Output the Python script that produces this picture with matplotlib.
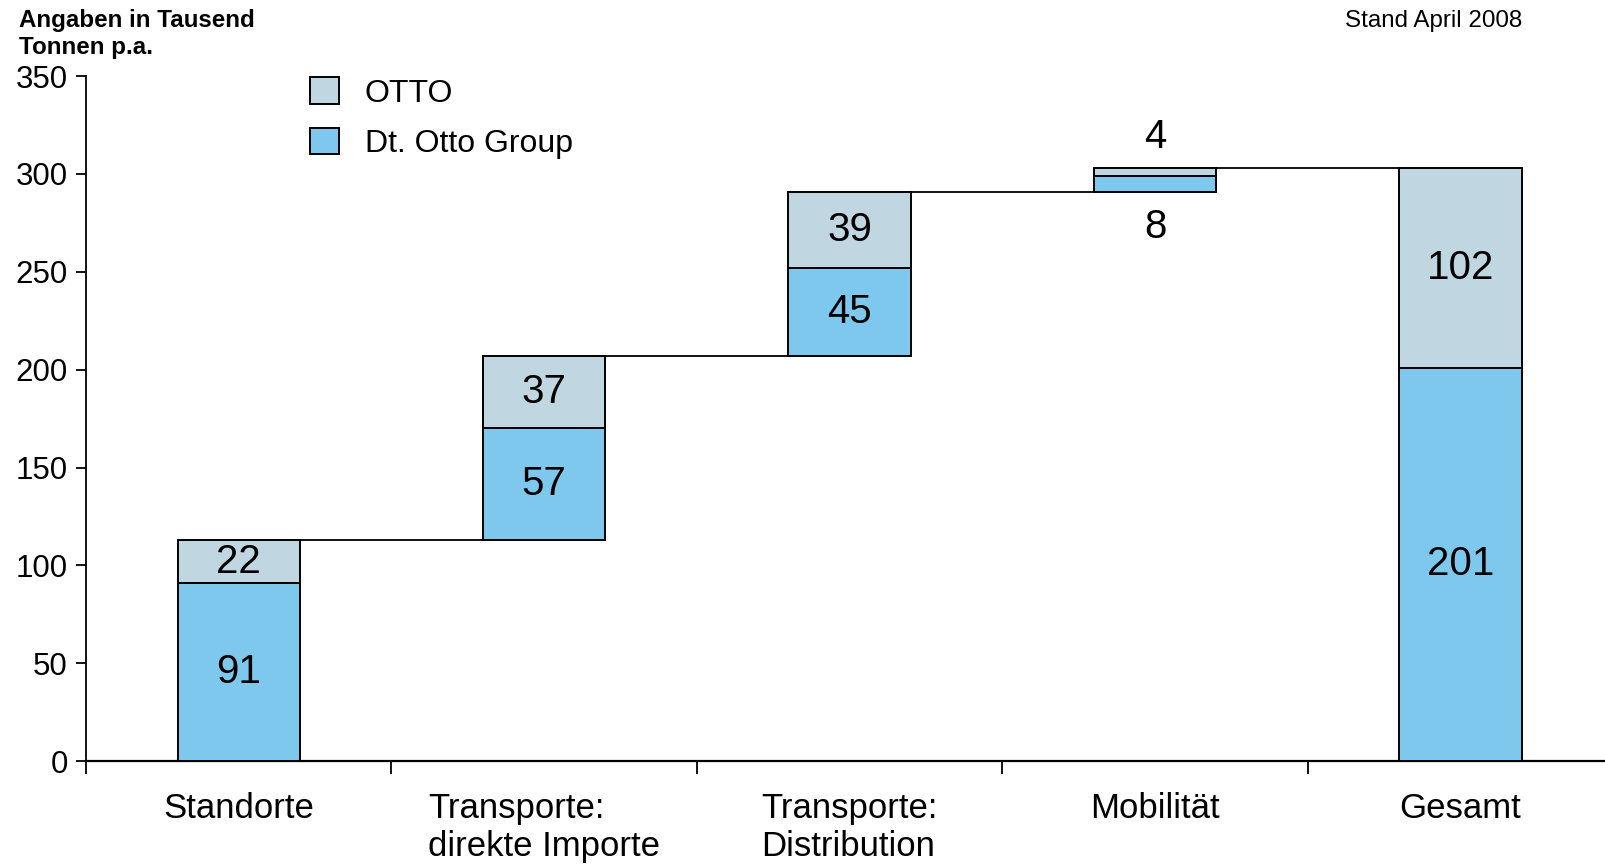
import numpy as np
import matplotlib.pyplot as plt
from matplotlib.patches import Patch

categories = ["Standorte", "Transporte:\ndirekte Importe", "Transporte:\nDistribution", "Mobilität", "Gesamt"]
dt_otto_group = [91, 57, 45, 8, 201]
otto = [22, 37, 39, 4, 102]

col_otto = "#C0D6E1"
col_group = "#7EC8EE"

plt.rcParams['font.family'] = ['Liberation Sans', 'DejaVu Sans']

fig = plt.figure(figsize=(16.06, 8.64), dpi=100)
ax = fig.add_axes([0.0535, 0.119, 0.951, 0.793])

x = np.arange(len(categories)) + 0.5
w = 0.40

# waterfall bases: running sum, last bar starts at 0
tops = np.cumsum(np.array(dt_otto_group) + np.array(otto))
base = np.concatenate([[0], tops[:-2], [0]])
mid = base + np.array(dt_otto_group)
top = mid + np.array(otto)

ax.bar(x, dt_otto_group, w, bottom=base, color=col_group, edgecolor="black", linewidth=1.4, zorder=3)
ax.bar(x, otto, w, bottom=mid, color=col_otto, edgecolor="black", linewidth=1.4, zorder=3)

# connectors
for i in range(len(x) - 1):
    ax.plot([x[i] + w / 2, x[i + 1] - w / 2], [top[i], top[i]], color="black", lw=1.3, zorder=2)

# value labels
fs_val = 29
for i in range(len(x)):
    if dt_otto_group[i] < 15:
        ax.text(x[i], base[i] - 18, str(dt_otto_group[i]), ha="center", va="center", fontsize=fs_val)
        ax.text(x[i], top[i] + 16, str(otto[i]), ha="center", va="center", fontsize=fs_val)
    else:
        ax.text(x[i], base[i] + dt_otto_group[i] / 2, str(dt_otto_group[i]), ha="center", va="center", fontsize=fs_val)
        ax.text(x[i], mid[i] + otto[i] / 2, str(otto[i]), ha="center", va="center", fontsize=fs_val)

ax.set_xlim(0, 5)
ax.set_ylim(0, 350)
ax.set_yticks(np.arange(0, 351, 50))
ax.tick_params(axis="y", labelsize=22.5, length=7, width=1.3, direction="out", pad=6)
ax.set_xticks(np.arange(0, 6))
ax.set_xticklabels([])
ax.set_xticks(x, minor=True)
ax.set_xticklabels(categories, minor=True, fontsize=25, linespacing=1.2, va="top")
for lbl in ax.get_xticklabels(minor=True):
    lbl.set_multialignment("left")
ax.tick_params(axis="x", which="major", length=9, width=1.3, direction="out")
ax.tick_params(axis="x", which="minor", length=0, pad=22)

for s in ["top", "right"]:
    ax.spines[s].set_visible(False)
ax.spines["left"].set_linewidth(1.3)
ax.spines["bottom"].set_linewidth(1.6)

handles = [Patch(facecolor=col_otto, edgecolor="black", linewidth=1.4, label="OTTO"),
           Patch(facecolor=col_group, edgecolor="black", linewidth=1.4, label="Dt. Otto Group")]
ax.legend(handles=handles, loc="upper left", bbox_to_anchor=(0.147, 0.998), frameon=False,
          fontsize=23, handlelength=0.9, handleheight=0.9, handletextpad=0.8, labelspacing=0.6,
          borderpad=0, borderaxespad=0)

fig.text(0.012, 0.99, "Angaben in Tausend\nTonnen p.a.", fontsize=17.4, fontweight="bold",
         ha="left", va="top", linespacing=1.25)
fig.text(0.948, 0.989, "Stand April 2008", fontsize=17.4, ha="right", va="top")

fig.savefig("out.png", dpi=100)
